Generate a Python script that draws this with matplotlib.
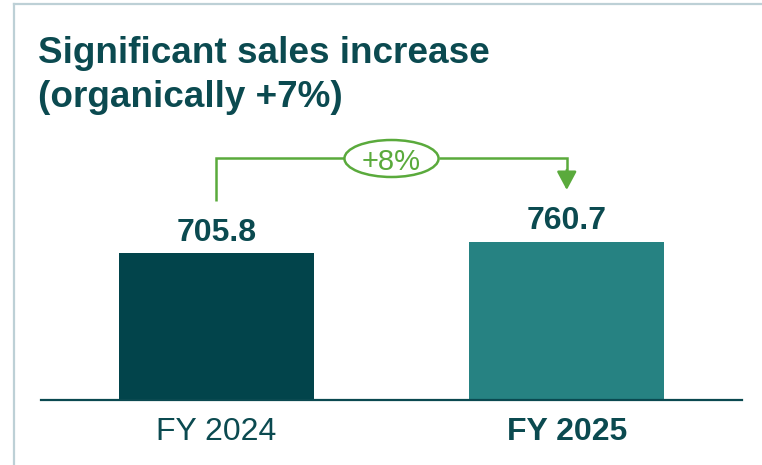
import matplotlib
matplotlib.use("Agg")
import matplotlib.pyplot as plt
from matplotlib.patches import Ellipse
from matplotlib.lines import Line2D

# ---- data ----
categories = ["FY 2024", "FY 2025"]
values = [705.8, 760.7]
value_labels = ["705.8", "760.7"]
growth_label = "+8%"
title_lines = ["Significant sales increase", "(organically +7%)"]

# ---- style ----
W, H = 762, 465
DPI = 100
plt.rcParams['font.family'] = ['Liberation Sans', 'DejaVu Sans']
TEAL_DARK = "#02444B"
TEAL = "#268282"
TEXT = "#0B4A50"
GREEN = "#5AAA3C"
BORDER = "#BDD0D6"

fig = plt.figure(figsize=(W / DPI, H / DPI), dpi=DPI)
fig.patch.set_facecolor("white")

def fx(px):
    return px / W

def fy(py):
    return (H - py) / H

# axes: x 41..742 px, baseline at y=400 px, top at y=0
ax_left, ax_right, ax_base = 41, 742, 400
ax = fig.add_axes([fx(ax_left), fy(ax_base), fx(ax_right - ax_left), ax_base / H])
SCALE = 0.208  # px per unit
ax.set_xlim(-0.5, 1.5)
ax.set_ylim(0, ax_base / SCALE)

x = list(range(len(categories)))
ax.bar(x, values, width=0.557, color=[TEAL_DARK, TEAL], zorder=2)

for s in ["top", "left", "right"]:
    ax.spines[s].set_visible(False)
ax.spines["bottom"].set_color("#0A4950")
ax.spines["bottom"].set_linewidth(1.6)
ax.set_yticks([])
ax.set_xticks(x)
ax.set_xticklabels(categories, fontsize=23, color=TEXT)
ax.get_xticklabels()[1].set_fontweight("bold")
ax.tick_params(axis="x", length=0, pad=12)
ax.patch.set_alpha(0)

# value labels
for xi, v, lab in zip(x, values, value_labels):
    ax.annotate(lab, xy=(xi, v), xytext=(0, 9), textcoords="offset points",
                ha="center", va="baseline", fontsize=23, fontweight="bold",
                color=TEXT)

# growth bracket
def ypx(py):
    return (ax_base - py) / SCALE

y_br = ypx(158.5)
y_start = ypx(201)
y_tip = ypx(190)
xm = (x[0] + x[1]) / 2
ell_w = 94 / 350.0
ell_h = 37 / SCALE
lw = 1.8
ax.plot([x[0], x[0], xm - ell_w / 2], [y_start, y_br, y_br], color=GREEN,
        lw=lw, solid_joinstyle="miter", solid_capstyle="butt", zorder=3)
ax.plot([xm + ell_w / 2, x[1], x[1]], [y_br, y_br, ypx(176)], color=GREEN,
        lw=lw, solid_joinstyle="miter", solid_capstyle="butt", zorder=3)
ax.annotate("", xy=(x[1], y_tip), xytext=(x[1], ypx(170)),
            arrowprops=dict(arrowstyle="-|>,head_length=0.75,head_width=0.4",
                            mutation_scale=15, color=GREEN, lw=lw,
                            shrinkA=0, shrinkB=0), zorder=3)
ell = Ellipse((xm, y_br), ell_w, ell_h, facecolor="white", edgecolor=GREEN,
              lw=lw, zorder=4)
ax.add_patch(ell)
ax.text(xm, y_br, growth_label, ha="center", va="center_baseline",
        fontsize=21, color=GREEN, zorder=5)

# title
fig.text(fx(37.5), fy(63), title_lines[0], fontsize=26.6, fontweight="bold",
         color=TEXT, ha="left", va="baseline")
fig.text(fx(37.5), fy(107), title_lines[1], fontsize=26.6, fontweight="bold",
         color=TEXT, ha="left", va="baseline")

# frame (top and left)
fig.add_artist(Line2D([fx(14), 1.0], [fy(4), fy(4)], color=BORDER, lw=1.6,
                      transform=fig.transFigure))
fig.add_artist(Line2D([fx(14), fx(14)], [fy(4), 0.0], color=BORDER, lw=1.6,
                      transform=fig.transFigure))

fig.savefig("out.png", dpi=DPI, facecolor="white")
